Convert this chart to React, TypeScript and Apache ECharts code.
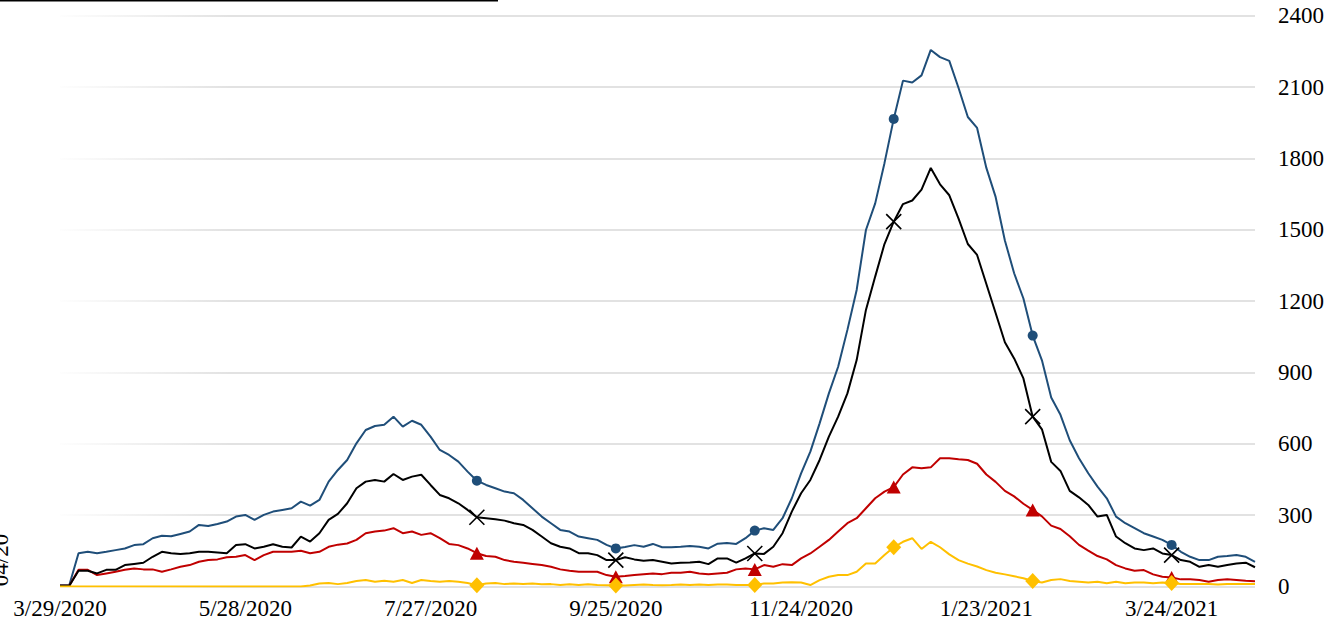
import React, { useEffect, useRef } from "react";
import * as echarts from "echarts";

// Sampled every 3 days starting 3/29/2020
const startDateUTC = Date.UTC(2020, 2, 29);
const stepDays = 3;

const blueSeries = [
  5, 5, 140, 146, 140, 146, 153, 160, 174, 178,
  203, 213, 211, 221, 231, 259, 254, 263, 273, 294,
  301, 280, 301, 315, 322, 329, 357, 340, 364, 441,
  490, 532, 602, 658, 675, 680, 714, 672, 697, 680,
  630, 574, 553, 525, 483, 445, 427, 413, 399, 392,
  364, 329, 294, 266, 238, 231, 210, 203, 196, 175,
  160, 166, 174, 167, 179, 165, 165, 167, 170, 167,
  160, 180, 183, 179, 203, 235, 245, 238, 287, 371,
  476, 567, 686, 812, 924, 1079, 1247, 1499, 1611, 1780,
  1966, 2127, 2119, 2149, 2256, 2226, 2210, 2096, 1974, 1928,
  1760, 1638, 1455, 1317, 1211, 1055, 951, 795, 722, 615,
  539, 476, 420, 371, 294, 266, 245, 224, 210, 196,
  175, 146, 125, 111, 111, 125, 128, 132, 125, 104,
];

const blackSeries = [
  3, 3, 66, 66, 55, 70, 70, 90, 95, 100,
  125, 146, 140, 137, 140, 146, 146, 143, 140, 174,
  178, 160, 167, 178, 167, 164, 210, 189, 224, 280,
  305, 350, 413, 441, 448, 441, 473, 448, 462, 470,
  427, 385, 371, 350, 322, 291, 287, 283, 277, 266,
  259, 238, 210, 182, 167, 160, 140, 140, 132, 111,
  111, 123, 114, 108, 111, 104, 97, 100, 101, 104,
  94, 118, 118, 100, 118, 139, 137, 167, 224, 315,
  392, 448, 532, 630, 714, 812, 952, 1163, 1303, 1440,
  1534, 1608, 1623, 1669, 1760, 1691, 1645, 1547, 1440, 1394,
  1272, 1150, 1027, 959, 875, 714, 661, 524, 486, 402,
  375, 343, 294, 301, 210, 182, 160, 153, 160, 139,
  132, 111, 104, 83, 90, 83, 90, 97, 100, 81,
];

const redSeries = [
  3, 3, 70, 70, 48, 55, 62, 70, 76, 72,
  72, 62, 72, 83, 90, 104, 111, 114, 123, 125,
  132, 111, 132, 146, 146, 146, 150, 140, 146, 167,
  176, 181, 196, 224, 231, 235, 245, 224, 231, 217,
  224, 203, 179, 174, 160, 140, 128, 125, 111, 104,
  100, 95, 90, 83, 72, 66, 62, 62, 62, 48,
  41, 44, 48, 52, 55, 52, 58, 58, 62, 55,
  52, 55, 58, 72, 76, 72, 90, 83, 94, 90,
  118, 139, 167, 196, 231, 266, 287, 329, 371, 399,
  418, 471, 501, 497, 501, 539, 539, 535, 532, 516,
  471, 440, 402, 379, 348, 322, 295, 256, 242, 211,
  175, 151, 128, 114, 90, 76, 66, 69, 51, 41,
  38, 30, 30, 27, 20, 27, 30, 27, 24, 22,
];

const yellowSeries = [
  0, 0, 0, 0, 0, 0, 0, 0, 0, 0,
  0, 0, 0, 0, 0, 0, 0, 0, 0, 0,
  0, 0, 0, 0, 0, 0, 0, 4, 13, 15,
  10, 15, 23, 27, 20, 24, 20, 27, 15, 27,
  23, 20, 23, 20, 15, 5, 13, 15, 10, 13,
  10, 13, 9, 10, 6, 9, 6, 9, 6, 5,
  4, 4, 6, 8, 6, 5, 6, 8, 6, 8,
  6, 8, 8, 6, 6, 6, 13, 13, 17, 18,
  17, 6, 27, 41, 48, 48, 62, 97, 97, 132,
  165, 188, 203, 158, 188, 165, 135, 111, 96, 84,
  69, 58, 51, 43, 35, 23, 17, 27, 31, 23,
  20, 17, 20, 14, 20, 14, 17, 17, 14, 17,
  15, 11, 10, 11, 11, 8, 11, 11, 10, 11,
];

const markerIndices = [45, 60, 75, 90, 105, 120];
const labelEvery = 20; // every 60 days
const yMin = 0;
const yMax = 2400;
const yInterval = 300;

const dates = blueSeries.map((_, k) => {
  const d = new Date(startDateUTC + k * stepDays * 86400000);
  return `${d.getUTCMonth() + 1}/${d.getUTCDate()}/${d.getUTCFullYear()}`;
});

const FONT = "'Liberation Serif', 'Times New Roman', serif";

function withMarkers(values: number[], marker: any) {
  return values.map((v, k) =>
    markerIndices.includes(k)
      ? { value: v, symbol: marker.symbol, symbolSize: marker.size, itemStyle: marker.itemStyle }
      : v
  );
}

export default function App() {
  const ref = useRef<HTMLDivElement>(null);
  useEffect(() => {
    if (!ref.current) return;
    const chart = echarts.init(ref.current, undefined, { renderer: "svg" });
    const gridColor = new echarts.graphic.LinearGradient(
      60, 0, 230, 0,
      [
        { offset: 0, color: "rgba(226,226,226,0.05)" },
        { offset: 1, color: "rgba(226,226,226,1)" },
      ],
      true
    );
    const mkLine = (name: string, data: any[], color: string, z: number) => ({
      name,
      type: "line",
      data,
      symbol: "none",
      showSymbol: true,
      showAllSymbol: true,
      z,
      lineStyle: { color, width: 2 },
      itemStyle: { color },
      emphasis: { disabled: true },
    });
    chart.setOption({
      animation: false,
      backgroundColor: "#ffffff",
      grid: { left: 60, right: 87, top: 15.7, bottom: 38.5, containLabel: false },
      xAxis: {
        type: "category",
        data: dates,
        boundaryGap: false,
        axisLine: { show: false },
        axisTick: { show: false },
        splitLine: { show: false },
        axisLabel: {
          interval: labelEvery - 1,
          color: "#000",
          fontFamily: FONT,
          fontSize: 23,
          margin: 10,
        },
      },
      yAxis: {
        type: "value",
        position: "right",
        min: yMin,
        max: yMax,
        interval: yInterval,
        axisLine: { show: false },
        axisTick: { show: false },
        axisLabel: {
          color: "#000",
          fontFamily: FONT,
          fontSize: 23,
          margin: 23,
          align: "left",
          formatter: (v: number) => String(v),
        },
        splitLine: { show: true, lineStyle: { color: gridColor, width: 2 } },
      },
      graphic: [
        { type: "rect", left: 0, top: 0, shape: { x: 0, y: 0, width: 498, height: 1.5 }, style: { fill: "#000" }, z: 100 },
        {
          type: "text",
          x: 12,
          y: 560,
          rotation: Math.PI / 2,
          style: {
            text: "04/20",
            font: `23px ${FONT}`,
            fill: "#000",
            textAlign: "center",
            textVerticalAlign: "bottom",
          },
          z: 100,
        },
      ],
      series: [
        mkLine("blue", withMarkers(blueSeries, { symbol: "circle", size: 10, itemStyle: { color: "#1F4E79" } }), "#1F4E79", 2),
        mkLine("red", withMarkers(redSeries, { symbol: "triangle", size: [14, 13], itemStyle: { color: "#C00000" } }), "#C00000", 3),
        mkLine(
          "black",
          withMarkers(blackSeries, {
            symbol: "path://M0,0L10,10M10,0L0,10",
            size: 15,
            itemStyle: { color: "none", borderColor: "#000", borderWidth: 1.6 },
          }),
          "#000000",
          4
        ),
        mkLine("yellow", withMarkers(yellowSeries, { symbol: "diamond", size: [15, 16], itemStyle: { color: "#FFC000" } }), "#FFC000", 5),
      ],
    });
    return () => chart.dispose();
  }, []);
  return <div ref={ref} style={{ position: "fixed", left: 0, top: 0, width: 1342, height: 625 }} />;
}
